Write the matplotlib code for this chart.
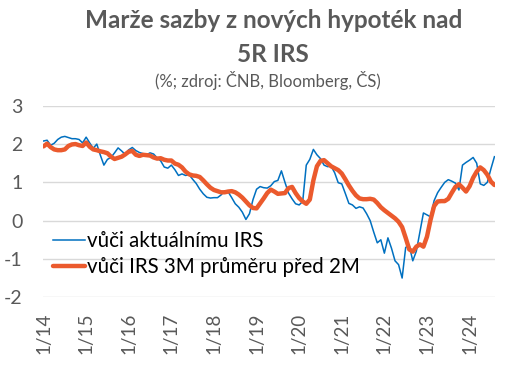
import numpy as np
import matplotlib
matplotlib.use("Agg")
import matplotlib.pyplot as plt

# monthly data, 1/2014 .. 8/2024
blue_vals = [
    2.08, 2.10, 1.97, 2.02, 2.12, 2.18, 2.20, 2.17, 2.14, 2.14,
    2.12, 2.03, 2.18, 2.03, 1.89, 2.00, 1.71, 1.45, 1.60, 1.65,
    1.77, 1.90, 1.82, 1.73, 1.85, 1.91, 1.83, 1.78, 1.75, 1.72,
    1.77, 1.74, 1.64, 1.56, 1.40, 1.37, 1.45, 1.33, 1.18, 1.22,
    1.18, 1.20, 1.08, 0.97, 0.82, 0.70, 0.61, 0.59, 0.60, 0.60,
    0.67, 0.78, 0.75, 0.60, 0.44, 0.35, 0.22, 0.03, 0.18, 0.55,
    0.82, 0.89, 0.86, 0.85, 0.91, 1.02, 1.05, 1.30, 1.00, 0.72,
    0.57, 0.44, 0.41, 0.50, 1.45, 1.60, 1.86, 1.72, 1.62, 1.45,
    1.41, 1.42, 1.25, 0.99, 0.96, 0.71, 0.45, 0.41, 0.32, 0.36,
    0.33, 0.18, 0.00, -0.30, -0.58, -0.50, -0.85, -0.45, -0.72, -1.05,
    -1.15, -1.50, -0.70, -0.65, -1.05, -0.80, -0.30, 0.20, 0.15, 0.10,
    0.52, 0.73, 0.87, 1.00, 1.07, 1.03, 0.98, 0.80, 1.45, 1.52,
    1.58, 1.65, 1.50, 0.96, 0.92, 1.00, 1.35, 1.67,
]
orange_vals = [
    1.94, 2.01, 1.92, 1.86, 1.84, 1.84, 1.86, 1.95, 1.99, 2.00,
    1.97, 1.95, 2.04, 1.93, 1.86, 1.84, 1.81, 1.79, 1.76, 1.67,
    1.61, 1.64, 1.67, 1.73, 1.80, 1.82, 1.72, 1.69, 1.72, 1.71,
    1.70, 1.65, 1.62, 1.63, 1.59, 1.57, 1.57, 1.49, 1.46, 1.39,
    1.28, 1.21, 1.18, 1.17, 1.14, 1.05, 0.95, 0.86, 0.80, 0.77,
    0.74, 0.74, 0.76, 0.77, 0.74, 0.68, 0.60, 0.50, 0.40, 0.33,
    0.32, 0.45, 0.58, 0.72, 0.81, 0.76, 0.70, 0.71, 0.72, 0.85,
    0.88, 0.72, 0.59, 0.50, 0.44, 0.55, 1.05, 1.42, 1.56, 1.58,
    1.50, 1.42, 1.37, 1.32, 1.23, 1.08, 0.92, 0.78, 0.66, 0.58,
    0.56, 0.56, 0.57, 0.55, 0.46, 0.35, 0.27, 0.20, 0.13, 0.06,
    -0.03, -0.17, -0.45, -0.75, -0.81, -0.68, -0.62, -0.68, -0.42, 0.02,
    0.38, 0.50, 0.51, 0.51, 0.57, 0.73, 0.88, 0.95, 0.86, 0.76,
    0.90, 1.12, 1.28, 1.39, 1.32, 1.20, 1.02, 0.93,
]
tick_labels = ["1/14", "1/15", "1/16", "1/17", "1/18", "1/19",
               "1/20", "1/21", "1/22", "1/23", "1/24"]
y_ticks = [-2, -1, 0, 1, 2, 3]
label_blue = "vůči aktuálnímu IRS"
label_orange = "vůči IRS 3M průměru před 2M"

grey = "#595959"
plt.rcParams["font.family"] = ["Lato", "DejaVu Sans"]
plt.rcParams["axes.unicode_minus"] = False

x = np.arange(len(blue_vals))

fig = plt.figure(figsize=(5.08, 3.66), dpi=100)
ax = fig.add_axes([0.085, 0.188, 0.889, 0.523])

ax.plot(x, blue_vals, color="#0070C0", lw=1.1, label=label_blue)
ax.plot(x, orange_vals, color="#EB5A2D", lw=3.2, solid_joinstyle="round",
        solid_capstyle="round", label=label_orange)

ax.set_xlim(-0.1, len(blue_vals) - 0.9)
ax.set_ylim(-2, 3)
ax.set_yticks(y_ticks)
ax.set_xticks(np.arange(len(tick_labels)) * 12)
ax.set_xticklabels(tick_labels, rotation=90)
ax.tick_params(axis="y", length=0, pad=15, labelsize=14, labelcolor=grey)
ax.tick_params(axis="x", length=0, pad=11, labelsize=13.5, labelcolor=grey)
ax.grid(axis="y", color="#D9D9D9", lw=1.0)
ax.set_axisbelow(True)
for s in ax.spines.values():
    s.set_visible(False)

leg = ax.legend(loc="upper left", bbox_to_anchor=(0.022, 0.345), frameon=False,
                fontsize=14.8, handlelength=1.55, handletextpad=0.12,
                labelspacing=0.28, borderaxespad=0.0, borderpad=0.0)
for t in leg.get_texts():
    t.set_color("black")

fig.text(0.538, 0.943, "Marže sazby z nových hypoték nad", ha="center", va="center",
         fontsize=17.5, fontweight="bold", color=grey)
fig.text(0.538, 0.85, "5R IRS", ha="center", va="center",
         fontsize=17.5, fontweight="bold", color=grey)
fig.text(0.527, 0.781, "(%; zdroj: ČNB, Bloomberg, ČS)", ha="center", va="center",
         fontsize=12, color=grey)

fig.savefig("out.png", dpi=100)
